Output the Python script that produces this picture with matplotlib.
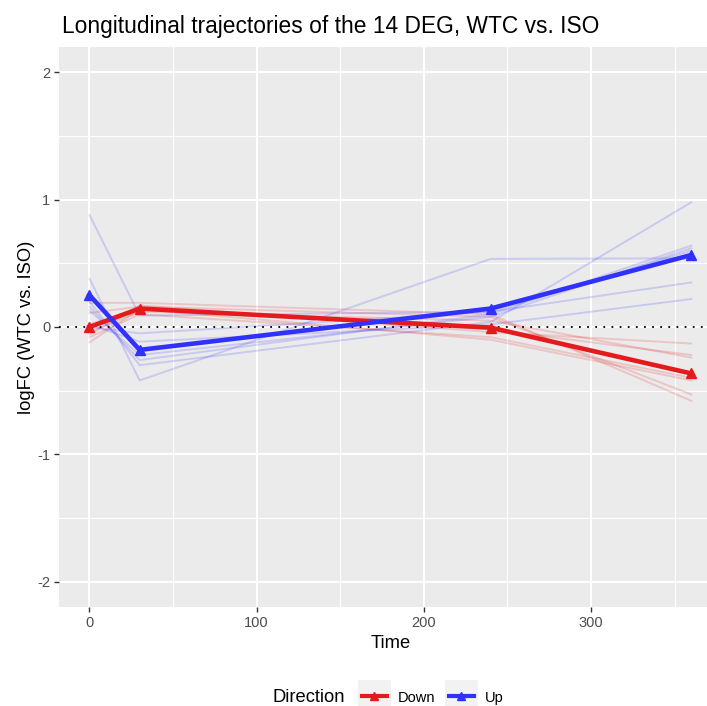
import matplotlib
matplotlib.use("Agg")
import matplotlib.pyplot as plt
from matplotlib.lines import Line2D
from matplotlib.patches import Rectangle
from matplotlib.legend_handler import HandlerTuple, HandlerPatch
import numpy as np

plt.rcParams['font.family'] = ['Liberation Sans', 'DejaVu Sans']

# ---- data ----
times = [0, 30, 240, 360]
up_genes = [
    [0.88, 0.09, 0.12, 0.35],
    [0.38, -0.42, 0.535, 0.54],
    [0.20, -0.30, 0.04, 0.98],
    [0.16, -0.26, 0.10, 0.64],
    [0.13, -0.22, 0.08, 0.62],
    [0.02, -0.115, 0.02, 0.22],
    [0.00, -0.05, 0.12, 0.60],
]
down_genes = [
    [0.19, 0.19, 0.10, -0.58],
    [0.11, 0.16, 0.08, -0.53],
    [0.02, 0.15, -0.02, -0.22],
    [-0.04, 0.12, 0.05, -0.24],
    [-0.08, 0.10, -0.08, -0.40],
    [-0.12, 0.14, -0.10, -0.42],
    [-0.06, 0.17, -0.04, -0.13],
]
up_mean = [0.25, -0.18, 0.145, 0.566]
down_mean = [0.0, 0.145, -0.005, -0.365]
directions = ["Down", "Up"]
x_ticks = [0, 100, 200, 300]
y_ticks = [-2, -1, 0, 1, 2]

RED = "#e41a1c"
BLUE = "#3030ff"
W, H = 707, 706
PX = 0.72  # points per pixel at dpi 100

fig = plt.figure(figsize=(W / 100, H / 100), dpi=100)
left, right, top, bottom = 59.4, 721.4, 47, 607
ax = fig.add_axes([left / W, 1 - bottom / H, (right - left) / W, (bottom - top) / H])
ax.set_facecolor("#EBEBEB")
ax.set_xlim(-18, 378)
ax.set_ylim(-2.2, 2.2)

# grid
for v in [50, 150, 250, 350]:
    ax.axvline(v, color="white", lw=0.8, zorder=0)
for v in [-1.5, -0.5, 0.5, 1.5]:
    ax.axhline(v, color="white", lw=0.8, zorder=0)
for v in x_ticks:
    ax.axvline(v, color="white", lw=1.5, zorder=0)
for v in y_ticks:
    ax.axhline(v, color="white", lw=1.5, zorder=0)

for g in down_genes:
    ax.plot(times, g, color=RED, alpha=0.18, lw=1.4, zorder=2)
for g in up_genes:
    ax.plot(times, g, color=BLUE, alpha=0.18, lw=1.4, zorder=2)

ax.axhline(0, color="black", lw=1.3, ls=(0, (1, 3.5)), zorder=3)

ax.plot(times, down_mean, color=RED, lw=3.3, marker="^", ms=7, zorder=4)
ax.plot(times, up_mean, color=BLUE, lw=3.3, marker="^", ms=7, zorder=5)

for s in ax.spines.values():
    s.set_visible(False)
ax.set_xticks(x_ticks)
ax.set_yticks(y_ticks)
ax.set_xticklabels([str(v) for v in x_ticks])
ax.set_yticklabels([str(v) for v in y_ticks])
ax.tick_params(axis="both", colors="#333333", length=3.5, width=1.0,
               labelsize=10.5, labelcolor="#4D4D4D", pad=3)

fig.text(61.5 / W, 1 - 32.7 / H, "Longitudinal trajectories of the 14 DEG, WTC vs. ISO",
         fontsize=16.4, ha="left", va="baseline", color="black")
fig.text(390.5 / W, 1 - 643 / H, "Time", fontsize=13.2, ha="center", va="center")
fig.text(27 / W, 1 - 327 / H, "logFC (WTC vs. ISO)", fontsize=13.2, ha="center",
         va="center", rotation=90)

# legend
fig.text(273 / W, 1 - 697 / H, "Direction", fontsize=13.2, ha="left", va="center")


def key_bg(legend, orig_handle, xdescent, ydescent, width, height, fontsize):
    cy = -ydescent + height / 2
    return Rectangle((-xdescent - 4 * PX, cy - 16.5 * PX), width + 8 * PX, 33 * PX)


handles = []
for col in [RED, BLUE]:
    bg = Rectangle((0, 0), 1, 1, facecolor="#F2F2F2", edgecolor="none")
    ln = Line2D([0], [0], color=col, lw=3.0, marker="^", ms=5.5)
    handles.append((bg, ln))
fig.legend(handles, directions,
           handler_map={tuple: HandlerTuple(ndivide=1, pad=0),
                        Rectangle: HandlerPatch(patch_func=key_bg)},
           loc="center left", bbox_to_anchor=(362 / W, 1 - 697.5 / H), ncol=2,
           frameon=False, fontsize=10.5, handlelength=1.7, handleheight=1.0,
           handletextpad=0.75, columnspacing=0.95, borderpad=0, borderaxespad=0,
           numpoints=1)

fig.savefig("out.png", dpi=100)
